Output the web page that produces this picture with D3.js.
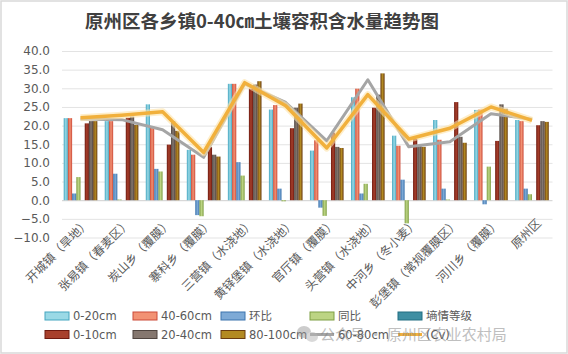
<!DOCTYPE html>
<html>
<head>
<meta charset="utf-8">
<script src="https://cdn.jsdelivr.net/npm/d3@7"></script>
<style>
  body { margin: 0; background: #fff; }
  text { font-family: "DejaVu Sans", "Noto Sans CJK SC", sans-serif; }
</style>
</head>
<body>
<div id="chart-area"></div>
<script>
// categories and series
var categories = ["开城镇（旱地）", "张易镇（春麦区）", "炭山乡（覆膜）", "寨科乡（覆膜）", "三营镇（水浇地）",
	"黄铎堡镇（水浇地）", "官厅镇（覆膜）", "头营镇（水浇地）", "中河乡（冬小麦）", "彭堡镇（常规覆膜区）",
	"河川乡（覆膜）", "原州区"];

var cm0_20 = [22.0, 21.2, 25.7, 13.5, 31.2, 24.3, 13.3, 27.6, 17.3, 21.5, 24.2, 21.5];
var cm40_60 = [22.0, 21.2, 19.8, 12.2, 31.2, 25.5, 16.1, 29.9, 14.6, 16.2, 24.3, 21.2];
var huanbi = [1.8, 7.1, 8.4, -4.0, 10.2, 3.1, -2.0, 1.8, 5.5, 3.1, -1.1, 3.1];
var tongbi = [6.2, 0.2, 7.7, -4.3, 6.6, -0.3, -4.2, 4.4, -6.2, 0.2, 9.0, 1.6];
var shangqing = [null, null, null, null, null, null, null, null, null, null, null, null];
var cm0_10 = [20.6, 22.1, 14.9, 14.2, 29.9, 19.3, 18.1, 24.8, 16.4, 26.3, 15.9, 20.1];
var cm20_40 = [21.2, 22.4, 21.2, 12.2, 31.0, 24.8, 14.3, 28.3, 14.6, 17.0, 25.7, 21.2];
var cm80_100 = [21.2, 20.2, 18.6, 11.7, 31.9, 25.9, 14.0, 34.0, 14.3, 15.4, 24.5, 21.0];

var cm60_80 = [21.8, 21.6, 18.9, 11.5, 31.2, 26.2, 15.9, 32.3, 14.3, 15.7, 23.2, 21.7];
var cv = [22.1, 22.8, 23.7, 12.8, 31.5, 25.3, 14.0, 28.3, 16.4, 19.3, 25.0, 21.4];

var yTicks = [-10, -5, 0, 5, 10, 15, 20, 25, 30, 35, 40];

var barSeries = [
	{name: "0-20cm", values: cm0_20, dark: "#45a6c0", light: "#9ad9e6"},
	{name: "40-60cm", values: cm40_60, dark: "#cc4a38", light: "#f29274"},
	{name: "环比", values: huanbi, dark: "#3c74ae", light: "#7eaad6"},
	{name: "同比", values: tongbi, dark: "#7f9f44", light: "#bcd483"},
	{name: "墒情等级", values: shangqing, dark: "#236f82", light: "#3f8fa3"},
	{name: "0-10cm", values: cm0_10, dark: "#6e1a10", light: "#a8402c"},
	{name: "20-40cm", values: cm20_40, dark: "#4f4540", light: "#85776f"},
	{name: "80-100cm", values: cm80_100, dark: "#6a3c10", light: "#b38a22"}
];

var W = 568, H = 354;
var svg = d3.select("#chart-area").append("svg")
	.attr("width", W)
	.attr("height", H);

svg.append("rect")
	.attr("x", 1).attr("y", 1)
	.attr("width", W - 2).attr("height", H - 2)
	.attr("fill", "#fff")
	.attr("stroke", "#d9d9d9")
	.attr("stroke-width", 1.5);

var defs = svg.append("defs");
barSeries.forEach(function(s, i){
	var g = defs.append("linearGradient")
		.attr("id", "grad" + i)
		.attr("x1", 0).attr("x2", 1).attr("y1", 0).attr("y2", 0);
	g.append("stop").attr("offset", "0%").attr("stop-color", s.dark);
	g.append("stop").attr("offset", "50%").attr("stop-color", s.light);
	g.append("stop").attr("offset", "100%").attr("stop-color", s.dark);
});

svg.append("text")
	.attr("x", 262)
	.attr("y", 28)
	.attr("text-anchor", "middle")
	.attr("font-size", 18.5)
	.attr("font-weight", "bold")
	.attr("fill", "#404040")
	.style("font-family", "'Noto Sans CJK SC', sans-serif")
	.text("原州区各乡镇0-40㎝土壤容积含水量趋势图");

var left = 60, right = 552.5;

var y = d3.scaleLinear()
	.domain([-10, 40])
	.range([237.5, 51]);

var x0 = d3.scaleBand()
	.domain(categories)
	.range([left, right]);

var x1 = d3.scaleBand()
	.domain(barSeries.map(function(s){ return s.name; }))
	.range([0, x0.bandwidth()])
	.paddingOuter(0.88);

// grid
svg.selectAll(".grid")
	.data(yTicks)
	.enter()
	.append("line")
		.attr("x1", left + 2)
		.attr("x2", right)
		.attr("y1", function(d){ return y(d) + 0.5; })
		.attr("y2", function(d){ return y(d) + 0.5; })
		.attr("stroke", function(d){ return d == 0 ? "#cfcfcf" : "#e3e3e3"; })
		.attr("stroke-width", 1);

svg.selectAll(".ylab")
	.data(yTicks)
	.enter()
	.append("text")
		.attr("x", 50)
		.attr("y", function(d){ return y(d); })
		.attr("dy", "0.36em")
		.attr("text-anchor", "end")
		.attr("font-size", 12)
		.attr("fill", "#595959")
		.text(function(d){ return d3.format(".1f")(d); });

// bars
var groups = svg.selectAll(".series")
	.data(barSeries)
	.enter()
	.append("g")
		.attr("fill", function(d, i){ return "url(#grad" + i + ")"; });

groups.selectAll("rect")
	.data(function(s){
		return s.values.map(function(v, i){ return {name: s.name, cat: categories[i], v: v}; })
			.filter(function(d){ return d.v != null; });
	})
	.enter()
	.append("rect")
		.attr("x", function(d){ return x0(d.cat) + x1(d.name); })
		.attr("y", function(d){ return y(Math.max(0, d.v)); })
		.attr("width", x1.bandwidth())
		.attr("height", function(d){ return Math.abs(y(d.v) - y(0)); });

// lines
var line = d3.line()
	.x(function(d, i){ return x0(categories[i]) + x0.bandwidth() / 2; })
	.y(function(d){ return y(d); });

svg.append("path")
	.attr("d", line(cm60_80))
	.attr("fill", "none")
	.attr("stroke", "#a5a5a5")
	.attr("stroke-width", 3)
	.attr("stroke-linejoin", "round");

svg.append("path")
	.attr("d", line(cv))
	.attr("fill", "none")
	.attr("stroke", "#fde3a6")
	.attr("stroke-opacity", 0.6)
	.attr("stroke-width", 7)
	.attr("stroke-linejoin", "round");

svg.append("path")
	.attr("d", line(cv))
	.attr("fill", "none")
	.attr("stroke", "#f1b03c")
	.attr("stroke-width", 3.5)
	.attr("stroke-linejoin", "round");

// category labels
svg.selectAll(".xlab")
	.data(categories)
	.enter()
	.append("text")
		.attr("transform", function(d){
			return "translate(" + (x0(d) + x0.bandwidth() / 2 + 7) + ",221) rotate(-45)";
		})
		.attr("text-anchor", "end")
		.attr("dy", "0.35em")
		.attr("font-size", 12)
		.attr("fill", "#595959")
		.style("font-family", "'Noto Sans CJK SC', sans-serif")
		.text(function(d){ return d; });

// legend
var legendCols = [45, 133, 221, 310, 398];
var legendItems = [
	{name: "0-20cm", type: "bar", idx: 0, row: 0, col: 0},
	{name: "40-60cm", type: "bar", idx: 1, row: 0, col: 1},
	{name: "环比", type: "bar", idx: 2, row: 0, col: 2},
	{name: "同比", type: "bar", idx: 3, row: 0, col: 3},
	{name: "墒情等级", type: "bar", idx: 4, row: 0, col: 4},
	{name: "0-10cm", type: "bar", idx: 5, row: 1, col: 0},
	{name: "20-40cm", type: "bar", idx: 6, row: 1, col: 1},
	{name: "80-100cm", type: "bar", idx: 7, row: 1, col: 2},
	{name: "60-80cm", type: "line", color: "#a5a5a5", row: 1, col: 3},
	{name: "(Cv)", type: "line", color: "#f1b03c", row: 1, col: 4}
];

var leg = svg.selectAll(".leg")
	.data(legendItems)
	.enter()
	.append("g")
		.attr("transform", function(d){
			return "translate(" + legendCols[d.col] + "," + (d.row == 0 ? 316 : 334.5) + ")";
		});

leg.filter(function(d){ return d.type == "bar"; })
	.append("rect")
		.attr("x", 0).attr("y", -4)
		.attr("width", 24).attr("height", 8)
		.attr("fill", function(d){ return barSeries[d.idx].light; })
		.attr("stroke", function(d){ return barSeries[d.idx].dark; })
		.attr("stroke-width", 1);

leg.filter(function(d){ return d.type == "line"; })
	.append("line")
		.attr("x1", 0).attr("x2", 24)
		.attr("stroke", function(d){ return d.color; })
		.attr("stroke-width", 3);

leg.append("text")
	.attr("x", 28)
	.attr("dy", "0.36em")
	.attr("font-size", 11.5)
	.attr("fill", "#595959")
	.text(function(d){ return d.name; });

// watermark from the source image
var wm = svg.append("g").attr("opacity", 0.5);
wm.append("ellipse").attr("cx", 304).attr("cy", 332).attr("rx", 7).attr("ry", 6).attr("fill", "#9a9a9a");
wm.append("ellipse").attr("cx", 312).attr("cy", 337).attr("rx", 6).attr("ry", 5).attr("fill", "#b5b5b5");
wm.append("text")
	.attr("x", 320)
	.attr("y", 340)
	.attr("font-size", 15)
	.attr("fill", "#808080")
	.style("font-family", "'Noto Sans CJK SC', sans-serif")
	.text("公众号 · 原州区农业农村局");
</script>
</body>
</html>
